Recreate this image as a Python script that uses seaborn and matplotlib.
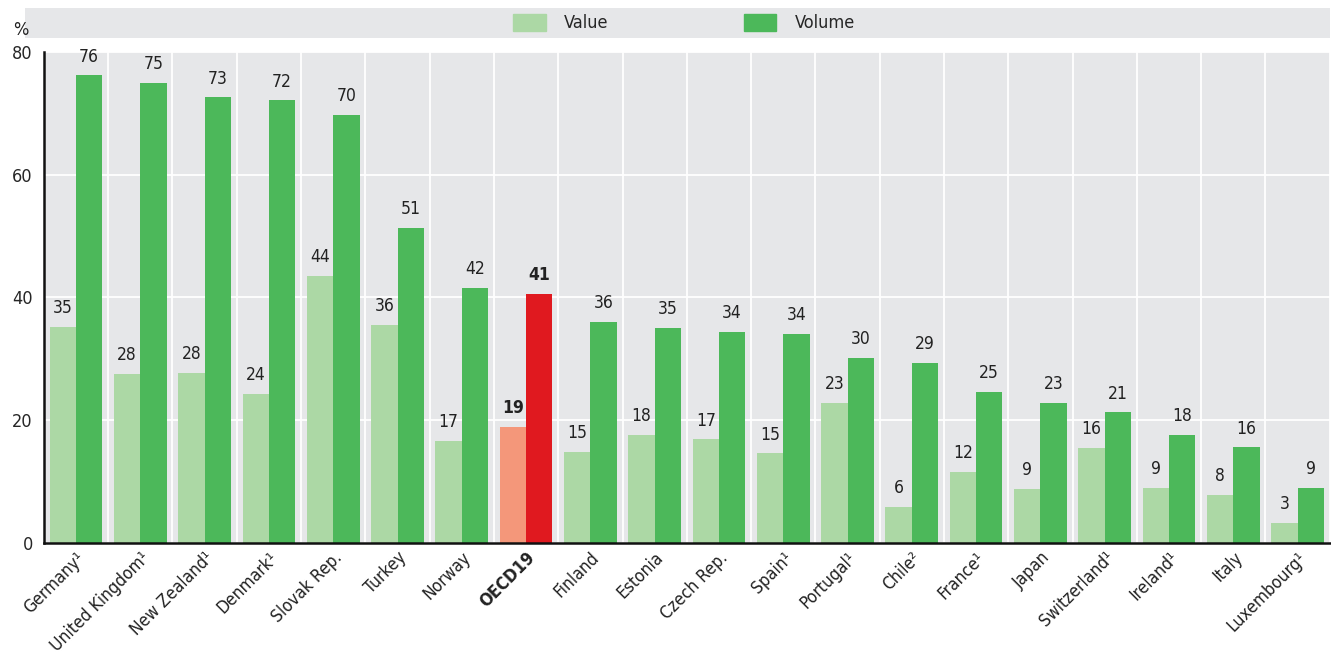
import numpy as np
import pandas as pd
import matplotlib.pyplot as plt
import matplotlib.patches as mpatches
import seaborn as sns

countries = ['Germany¹', 'United Kingdom¹', 'New Zealand¹', 'Denmark¹', 'Slovak Rep.',
             'Turkey', 'Norway', 'OECD19', 'Finland', 'Estonia', 'Czech Rep.', 'Spain¹',
             'Portugal¹', 'Chile²', 'France¹', 'Japan', 'Switzerland¹', 'Ireland¹',
             'Italy', 'Luxembourg¹']
value_share = [35.2, 27.5, 27.7, 24.3, 43.5, 35.5, 16.6, 18.9, 14.9, 17.6,
               16.9, 14.6, 22.8, 5.9, 11.6, 8.8, 15.5, 9.0, 7.8, 3.3]
volume_share = [76.2, 74.9, 72.6, 72.1, 69.8, 51.3, 41.6, 40.6, 36.0, 35.1,
                34.4, 34.1, 30.2, 29.3, 24.6, 22.8, 21.3, 17.6, 15.6, 9.0]
highlight = 'OECD19'

c_value, c_volume = '#acd8a5', '#4cb85a'
c_value_hl, c_volume_hl = '#f4977a', '#e0191f'
bg = '#e6e7e9'

df = pd.DataFrame({
    'country': countries * 2,
    'series': ['Value'] * len(countries) + ['Volume'] * len(countries),
    'pct': value_share + volume_share,
})

sns.set_style('white')
plt.rcParams['font.family'] = ['DejaVu Sans']
plt.rcParams['font.stretch'] = 'condensed'

fig = plt.figure(figsize=(13.31, 6.57), dpi=100)
ax = fig.add_axes([0.033, 0.1735, 0.966, 0.7475])
ax.set_facecolor(bg)

sns.barplot(data=df, x='country', y='pct', hue='series', order=countries,
            palette={'Value': c_value, 'Volume': c_volume}, width=0.82,
            saturation=1, legend=False, linewidth=0, ax=ax)

hl = countries.index(highlight)
for cont, col in zip(ax.containers, [c_value_hl, c_volume_hl]):
    cont.patches[hl].set_facecolor(col)
    labels = ax.bar_label(cont, labels=[f'{v:.0f}' for v in cont.datavalues],
                          padding=7, fontsize=12.5, color='#222222')
    labels[hl].set_fontweight('bold')

ax.set_ylim(0, 80)
ax.set_xlim(-0.5, len(countries) - 0.5)
ax.set_yticks([0, 20, 40, 60, 80])
ax.set_xticks(np.arange(len(countries)) + 0.5, minor=True)
ax.grid(False)
ax.yaxis.grid(True, color='white', linewidth=1.3)
ax.xaxis.grid(True, which='minor', color='white', linewidth=1.3)
ax.set_axisbelow(True)
ax.set_xlabel('')
ax.set_ylabel('')

for s in ['top', 'right']:
    ax.spines[s].set_visible(False)
for s in ['left', 'bottom']:
    ax.spines[s].set_color('#111111')
    ax.spines[s].set_linewidth(1.8)

ax.tick_params(axis='y', labelsize=13, direction='in', length=5, color='#111111', pad=8)
ax.tick_params(axis='x', which='both', length=0, pad=4)
ax.set_xticklabels(countries, rotation=45, ha='right', rotation_mode='anchor',
                   fontsize=12.5, color='#222222')
ax.get_xticklabels()[hl].set_fontweight('bold')

fig.text(0.010, 0.955, '%', fontsize=13, color='#222222', va='center')

# legend band
fig.patches.append(mpatches.Rectangle((0.019, 0.942), 0.98, 0.046, transform=fig.transFigure,
                                      facecolor=bg, edgecolor='none', zorder=0))
handles = [mpatches.Patch(color=c_value, label='Value'),
           mpatches.Patch(color=c_volume, label='Volume')]
fig.legend(handles=handles, loc='center', bbox_to_anchor=(0.514, 0.965), ncol=2,
           frameon=False, fontsize=13, handlelength=1.8, handleheight=1.1,
           columnspacing=7.5, handletextpad=1.0)

fig.savefig('out.png', dpi=100)
